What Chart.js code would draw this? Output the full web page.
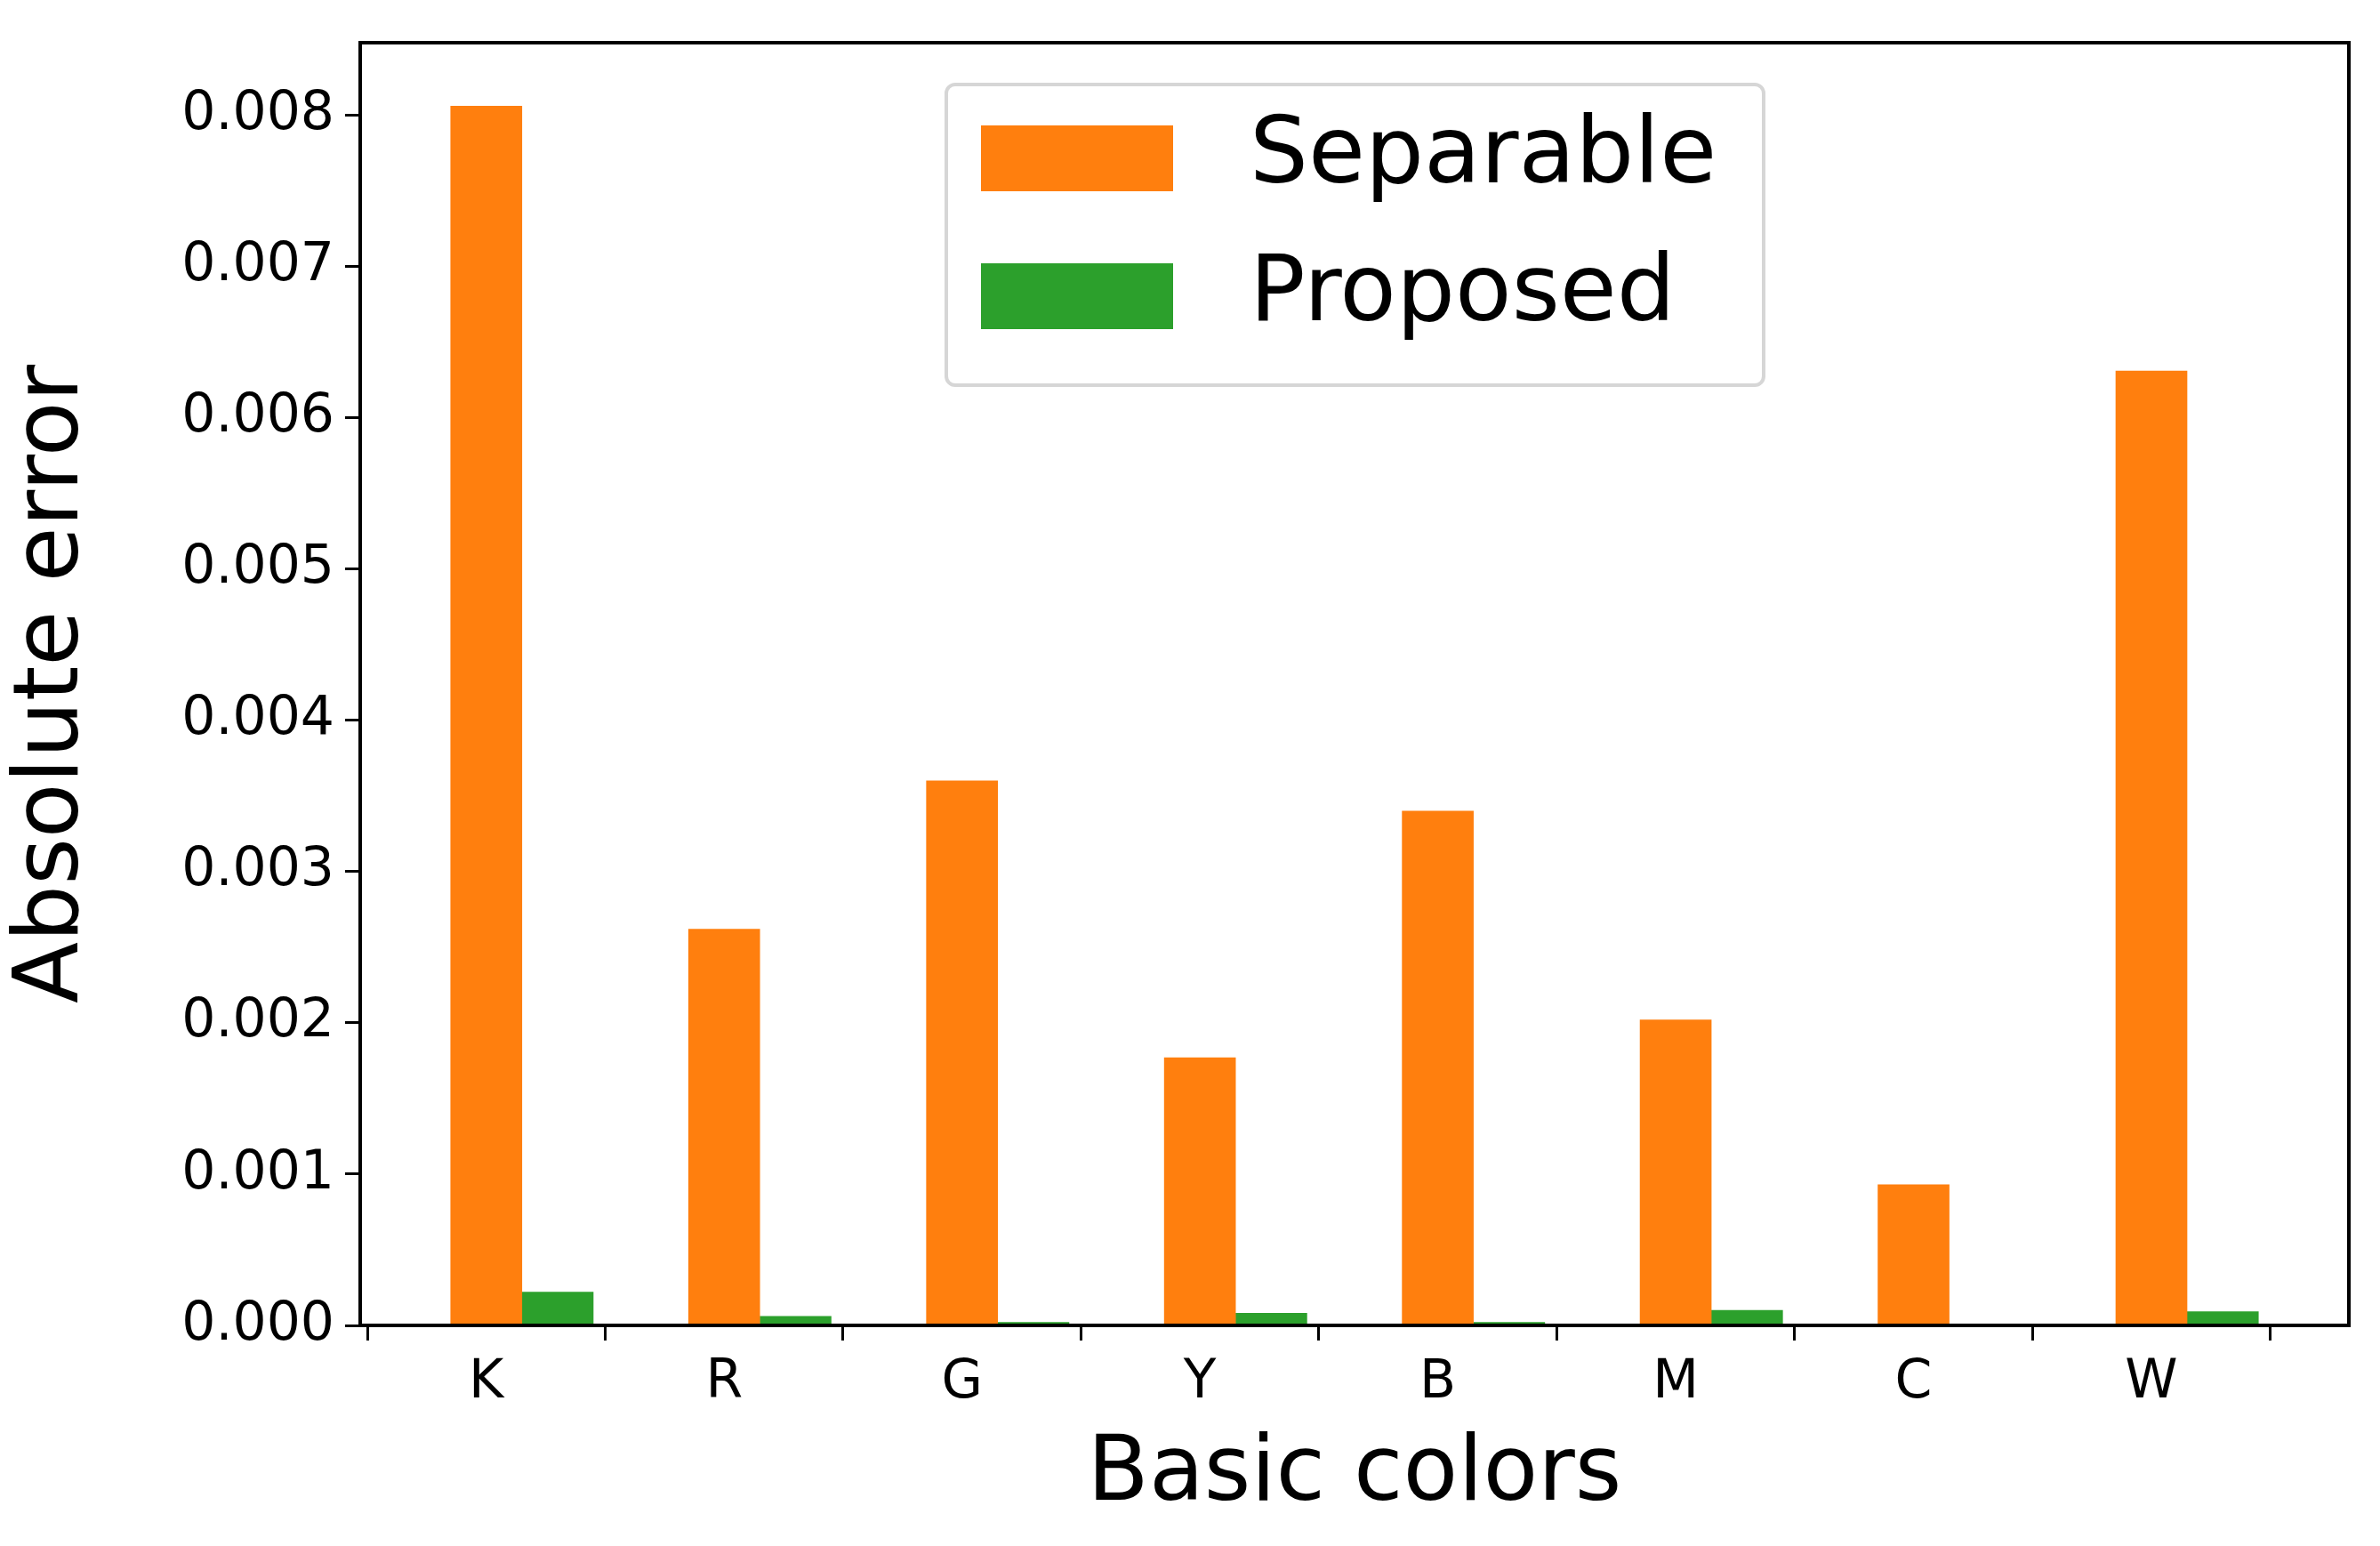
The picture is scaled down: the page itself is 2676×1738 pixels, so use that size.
<!DOCTYPE html>
<html><head><meta charset="utf-8">
<script src="https://cdn.jsdelivr.net/npm/chart.js@4"></script>
<style>html,body{margin:0;padding:0;background:#fff;overflow:hidden}</style>
</head><body>
<canvas id="c" width="2676" height="1738"></canvas>
<script>
const categories = ['K','R','G','Y','B','M','C','W'];
const separable = [0.00806,0.00262,0.00360,0.00177,0.00340,0.00202,0.00093,0.00631];
const proposed  = [0.00022,0.00006,0.00002,0.00008,0.00002,0.00010,0.00000,0.00009];
const yTicks = [0,0.001,0.002,0.003,0.004,0.005,0.006,0.007,0.008];
const seriesNames = ['Separable','Proposed'];
const colors = ['#ff7f0e','#2ca02c'];
const FONT = 'DejaVu Sans';
const W = 0.3;

const frame = {
  id:'frame',
  afterDraw(chart){
    const {ctx, chartArea:a} = chart;
    ctx.save();
    ctx.strokeStyle='#000'; ctx.lineWidth=4;
    ctx.strokeRect(a.left,a.top,a.right-a.left,a.bottom-a.top);
    // legend
    const bx=1064, by=95, bw=919, bh=338;
    ctx.fillStyle='rgba(255,255,255,0.8)';
    ctx.strokeStyle='#d6d6d6'; ctx.lineWidth=4;
    ctx.beginPath(); ctx.roundRect(bx,by,bw,bh,10); ctx.fill(); ctx.stroke();
    ctx.font = '104px "'+FONT+'"';
    ctx.textBaseline='middle';
    seriesNames.forEach((n,i)=>{
      const cy = 178 + i*155;
      ctx.fillStyle=colors[i];
      ctx.fillRect(1103, cy-37, 216, 74);
      ctx.fillStyle='#000';
      ctx.fillText(n, 1405, cy);
    });
    ctx.restore();
  }
};

new Chart(document.getElementById('c'), {
  type:'bar',
  data:{
    datasets:[
      {label:seriesNames[0], data:separable.map((v,i)=>({x:i,y:v})), backgroundColor:colors[0], grouped:false, barThickness:80},
      {label:seriesNames[1], data:proposed.map((v,i)=>({x:i+W,y:v})), backgroundColor:colors[1], grouped:false, barThickness:80}
    ]
  },
  options:{
    responsive:false, animation:false, devicePixelRatio:1,
    layout:{padding:{top:38,right:35,left:0,bottom:0}},
    plugins:{legend:{display:false}, tooltip:{enabled:false}},
    scales:{
      x:{type:'linear', min:-0.53, max:7.83, offset:false,
        afterBuildTicks(s){ s.ticks = categories.map((c,i)=>({value:i})); },
        afterFit(s){ s.height = 248; },
        grid:{drawOnChartArea:false, drawTicks:true, tickLength:17, tickWidth:3, color:'#000'},
        border:{display:false},
        ticks:{autoSkip:false, maxRotation:0, padding:12, color:'#000', font:{family:FONT,size:60}, callback:(v)=>categories[v] ?? ''},
        title:{display:true, text:'Basic colors', color:'#000', font:{family:FONT,size:101}, padding:{top:6,bottom:18}}
      },
      y:{min:0, max:0.00848,
        afterBuildTicks(s){ s.ticks = yTicks.map(v=>({value:v})); },
        afterFit(s){ s.width = 405; },
        grid:{drawOnChartArea:false, drawTicks:true, tickLength:17, tickWidth:3, color:'#000'},
        border:{display:false},
        ticks:{padding:12, color:'#000', font:{family:FONT,size:60}, callback:(v)=>Number(v).toFixed(3)},
        title:{display:true, text:'Absolute error', color:'#000', font:{family:FONT,size:101}, padding:{top:0,bottom:10}}
      }
    }
  },
  plugins:[frame]
});
</script>
</body></html>
